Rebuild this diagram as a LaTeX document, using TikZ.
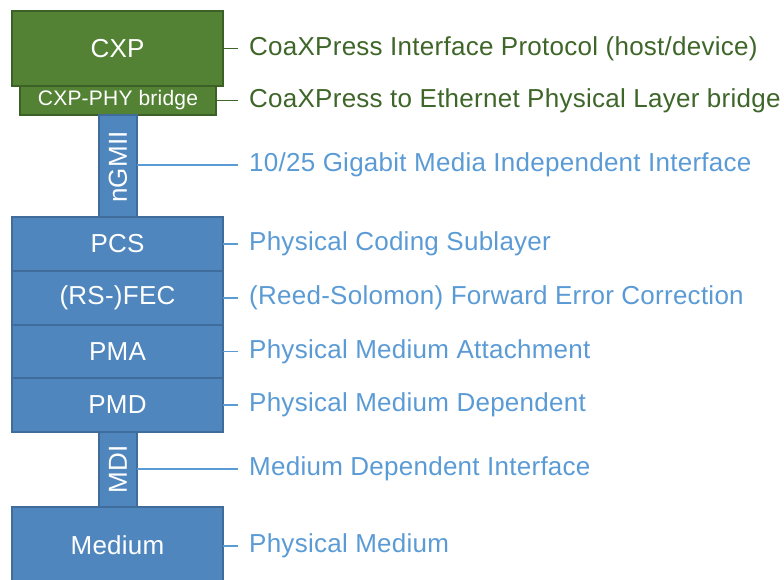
\documentclass[tikz,border=0pt]{standalone}
\usepackage{fontspec}
\setmainfont{Liberation Sans}[LetterSpace=1.0]
\definecolor{gfill}{HTML}{548235}
\definecolor{gline}{HTML}{3C6126}
\definecolor{gtext}{HTML}{3D6628}
\definecolor{bfill}{HTML}{4F86BD}
\definecolor{bline}{HTML}{3F6C9A}
\definecolor{btext}{HTML}{5B9BD5}
\begin{document}
\begin{tikzpicture}[x=1pt,y=-1pt,
  gbox/.style={draw=gline,fill=gfill,line width=1.5pt,text=white},
  bbox/.style={draw=bline,fill=bfill,line width=1.5pt,text=white},
  lbl/.style={anchor=west,inner xsep=11pt,inner ysep=0pt,font=\fontsize{26}{30}\selectfont},
  glbl/.style={lbl,text=gtext},
  blbl/.style={lbl,text=btext},
  gcon/.style={draw=gtext,line width=1.3pt},
  bcon/.style={draw=btext,line width=1.3pt},
  big/.style={font=\fontsize{26}{30}\selectfont}]
\useasboundingbox (0,0) rectangle (784,579);
\clip (0,0) rectangle (784,579);
% boxes
\path[gbox] (12,11) rectangle (223,86);
\node[big,text=white] (cxp) at (117.5,48.5) {CXP};
\coordinate (cxpE) at (223,48.5);
\path[gbox] (20,86) rectangle (216,115);
\node[font=\fontsize{21}{24}\selectfont,text=white] (br) at (118,100.5) {CXP-PHY bridge};
\coordinate (brE) at (216,100.5);
\path[bbox] (99,115) rectangle (137,217);
\node[big,text=white,rotate=90] (ngmii) at (118,167) {nGMII};
\coordinate (ngE) at (137,165);
\path[bbox] (12,217) rectangle (223,271);
\node[big,text=white] (pcs) at (117.5,244) {PCS};
\coordinate (pcsE) at (223,244);
\path[bbox] (12,271) rectangle (223,325);
\node[big,text=white] (fec) at (117.5,298) {(RS-)FEC};
\coordinate (fecE) at (223,298);
\path[bbox] (12,325) rectangle (223,378);
\node[big,text=white] (pma) at (117.5,351.5) {PMA};
\coordinate (pmaE) at (223,351.5);
\path[bbox] (12,378) rectangle (223,432);
\node[big,text=white] (pmd) at (117.5,405) {PMD};
\coordinate (pmdE) at (223,405);
\path[bbox] (99,432) rectangle (137,507);
\node[big,text=white,rotate=90] (mdi) at (118,469.5) {MDI};
\coordinate (mdiE) at (137,469);
\path[bbox] (12,507) rectangle (223,585);
\node[big,text=white] (med) at (117.5,545) {Medium};
\coordinate (medE) at (223,546);
% labels
\node[glbl] (l1) at (238,48.5) {CoaXPress Interface Protocol (host/device)};
\node[glbl] (l2) at (238,100.5) {CoaXPress to Ethernet Physical Layer bridge};
\node[blbl] (l3) at (238,165) {10/25 Gigabit Media Independent Interface};
\node[blbl] (l4) at (238,244) {Physical Coding Sublayer};
\node[blbl] (l5) at (238,298) {(Reed-Solomon) Forward Error Correction};
\node[blbl] (l6) at (238,351.5) {Physical Medium Attachment};
\node[blbl] (l7) at (238,405) {Physical Medium Dependent};
\node[blbl] (l8) at (238,469) {Medium Dependent Interface};
\node[blbl] (l9) at (238,546) {Physical Medium};
% connectors
\draw[gcon] (cxpE) -- (l1.west);
\draw[gcon] (brE) -- (l2.west);
\draw[bcon] (ngE) -- (l3.west);
\draw[bcon] (pcsE) -- (l4.west);
\draw[bcon] (fecE) -- (l5.west);
\draw[bcon] (pmaE) -- (l6.west);
\draw[bcon] (pmdE) -- (l7.west);
\draw[bcon] (mdiE) -- (l8.west);
\draw[bcon] (medE) -- (l9.west);
\end{tikzpicture}
\end{document}
